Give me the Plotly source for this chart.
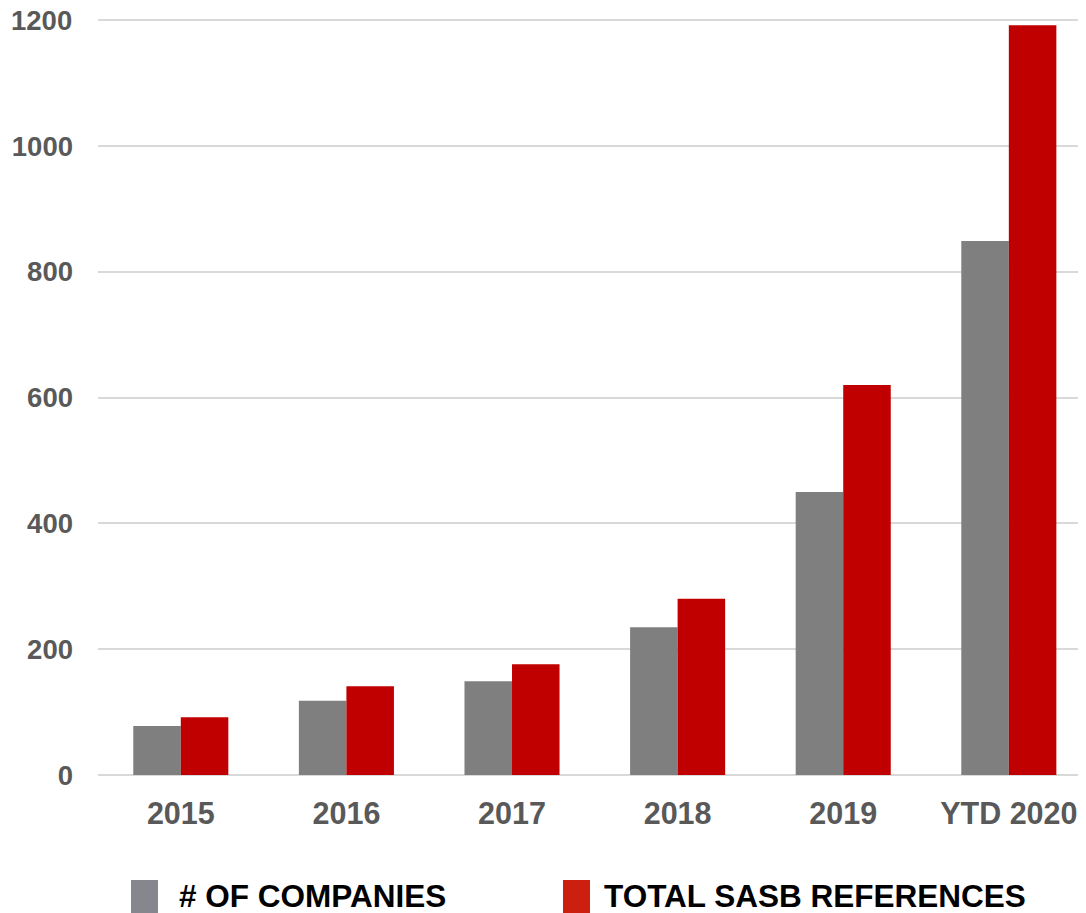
import plotly.graph_objects as go

categories = ["2015", "2016", "2017", "2018", "2019", "YTD 2020"]
companies = [78, 118, 149, 235, 450, 849]
references = [92, 141, 176, 280, 620, 1192]
legend_names = ["# OF COMPANIES", "TOTAL SASB REFERENCES"]
y_ticks = [0, 200, 400, 600, 800, 1000, 1200]

OFF = 8  # default page body margin
W, H = 1086 - OFF, 913 - OFF
ML, MR, MT, MB = 90, 0, 9, 138
YMAX = 1205
plot_w = W - ML - MR
plot_h = H - MT - MB

fig = go.Figure()
fig.add_trace(go.Bar(x=categories, y=companies, name=legend_names[0],
                     marker=dict(color="#7f7f7f", line=dict(width=0)), showlegend=False))
fig.add_trace(go.Bar(x=categories, y=references, name=legend_names[1],
                     marker=dict(color="#c00000", line=dict(width=0)), showlegend=False))

font_fam = "Liberation Sans, Arial, sans-serif"
tick_font = dict(family=font_fam, size=27.5, color="#595959")

# custom legend (positions given in viewport pixels)
def ppx(vx):
    return (vx - OFF - ML) / plot_w

def ppy(vy):
    return (H - MB - (vy - OFF)) / plot_h

legend_items = [
    (131, 158, 177, "#86868e", legend_names[0]),
    (563, 590, 602, "#cd1f10", legend_names[1]),
]
for x0, x1, tx, col, name in legend_items:
    fig.add_shape(type="rect", xref="paper", yref="paper",
                  x0=ppx(x0), x1=ppx(x1), y0=ppy(880), y1=ppy(920),
                  fillcolor=col, line=dict(width=0))
    fig.add_annotation(xref="paper", yref="paper", x=ppx(tx), y=ppy(896),
                       text="<b>" + name + "</b>", showarrow=False,
                       xanchor="left", yanchor="middle",
                       font=dict(family=font_fam, size=31.5, color="#000000"))

# top tick label (the axis would hide it because it touches the page edge)
top_tick = y_ticks[-1]
fig.add_annotation(xref="paper", yref="y", x=ppx(73), y=top_tick,
                   text="<b>%d</b>" % top_tick, showarrow=False,
                   xanchor="right", yanchor="middle", borderpad=0,
                   font=tick_font)

fig.update_layout(
    width=W, height=H,
    margin=dict(l=ML, r=MR, t=MT, b=MB),
    paper_bgcolor="white", plot_bgcolor="white",
    barmode="group", bargap=0.426, bargroupgap=0,
    showlegend=False,
    font=dict(family=font_fam),
)
fig.update_xaxes(
    range=[-0.5, 5.466], showgrid=False, showline=False, zeroline=False,
    tickfont=dict(family=font_fam, size=30.5, color="#595959"),
    ticks="", ticklabelstandoff=17,
    tickvals=categories, ticktext=["<b>" + c + "</b>" for c in categories],
)
fig.update_yaxes(
    range=[0, YMAX], tickvals=y_ticks,
    ticktext=["<b>%d</b>" % v if v != top_tick else "" for v in y_ticks],
    showgrid=True, gridcolor="#d9d9d9", gridwidth=2,
    zeroline=True, zerolinecolor="#d9d9d9", zerolinewidth=2,
    showline=False, ticks="", ticklabelstandoff=24,
    tickfont=tick_font,
)

fig.write_html("out.html")
